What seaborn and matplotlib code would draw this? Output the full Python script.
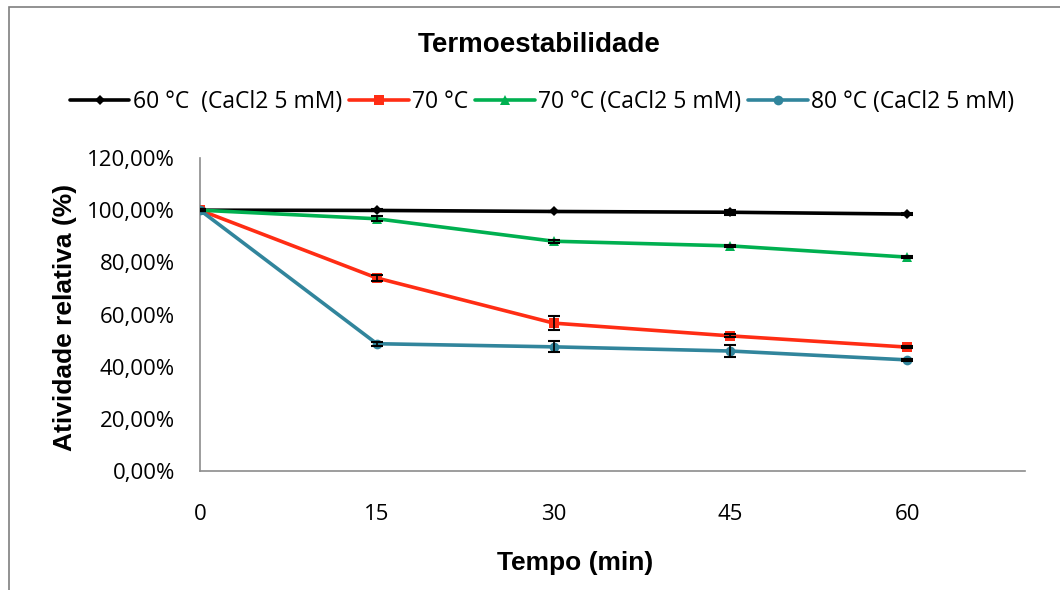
import matplotlib
matplotlib.use("Agg")
import matplotlib.pyplot as plt
import seaborn as sns
import pandas as pd
import numpy as np
from matplotlib.patches import Rectangle
from matplotlib.ticker import FuncFormatter

tempo = [0, 15, 30, 45, 60]
series_names = ["60 °C  (CaCl2 5 mM)", "70 °C", "70 °C (CaCl2 5 mM)", "80 °C (CaCl2 5 mM)"]
v60_ca = [100.0, 99.9, 99.5, 99.2, 98.5]
v70 = [100.0, 74.0, 56.7, 51.8, 47.5]
v70_ca = [100.0, 96.7, 88.1, 86.3, 82.0]
v80_ca = [100.0, 48.8, 47.6, 46.0, 42.6]
e60_ca = [0.3, 0.4, 0.3, 0.9, 0.3]
e70 = [0.4, 1.2, 2.7, 0.6, 0.4]
e70_ca = [0.3, 1.0, 0.5, 0.5, 0.4]
e80_ca = [0.3, 0.8, 2.1, 2.3, 0.4]

values = [v60_ca, v70, v70_ca, v80_ca]
errors = [e60_ca, e70, e70_ca, e80_ca]
colors = ["#000000", "#FF2D14", "#00B050", "#31859C"]
markers = ["D", "s", "^", "o"]
msizes = [5, 7, 7.5, 7]

df = pd.DataFrame({
    "Tempo": np.tile(tempo, 4),
    "Atividade": np.concatenate(values),
    "Serie": np.repeat(series_names, len(tempo)),
})

sns.set_theme(style="white")
plt.rcParams["font.family"] = ["Open Sans", "DejaVu Sans"]
plt.rcParams["text.color"] = "black"
plt.rcParams["axes.labelcolor"] = "black"

fig = plt.figure(figsize=(10.6, 5.9), dpi=100)
ax = fig.add_axes([200/1060, 1-471/590, 825/1060, 313/590])

for name, col, mk, ms, vals, errs in zip(series_names, colors, markers, msizes, values, errors):
    sub = df[df["Serie"] == name]
    sns.lineplot(data=sub, x="Tempo", y="Atividade", ax=ax, color=col, marker=mk,
                 markersize=ms, markeredgewidth=0, linewidth=2.6, label=name, zorder=3)
    ax.errorbar(tempo, vals, yerr=errs, fmt="none", ecolor="black", elinewidth=1.2,
                capsize=4, capthick=1.5, zorder=4)

ax.set_xlim(0, 70)
ax.set_ylim(0, 120)
ax.set_xticks(tempo)
ax.set_yticks([0, 20, 40, 60, 80, 100, 120])
ax.yaxis.set_major_formatter(FuncFormatter(lambda v, p: f"{v:.2f}%".replace(".", ",")))
ax.tick_params(axis="both", length=0, labelsize=16, colors="black")
ax.tick_params(axis="x", pad=24)
ax.tick_params(axis="y", pad=18)
for s in ["top", "right"]:
    ax.spines[s].set_visible(False)
for s in ["left", "bottom"]:
    ax.spines[s].set_color("#8C8C8C")
    ax.spines[s].set_linewidth(1.2)

ax.set_xlabel("Tempo (min)", fontsize=19, fontweight="bold", family="Liberation Sans")
ax.set_ylabel("Atividade relativa (%)", fontsize=19, fontweight="bold", family="Liberation Sans")
ax.xaxis.set_label_coords((575 - 200) / 825, -(563 - 471) / 313)
ax.yaxis.set_label_coords(-(200 - 65) / 825, (471 - 317) / 313)
ax.xaxis.label.set_va("center")
ax.yaxis.label.set_va("center")

fig.text(539/1060, 1-45/590, "Termoestabilidade", ha="center", va="center",
         fontsize=20, fontweight="bold", family="Liberation Sans")

handles, labels = ax.get_legend_handles_labels()
ax.get_legend().remove()
fig.legend(handles, labels, loc="center", bbox_to_anchor=(542/1060, 1-102/590), ncol=4,
           frameon=False, fontsize=16.5, handlelength=2.6, handletextpad=0.15,
           columnspacing=0.3, borderaxespad=0)

fig.patches.append(Rectangle((9/1060, -0.05), 1.1, 1.05 - 7/590, transform=fig.transFigure,
                             fill=False, edgecolor="#7F7F7F", linewidth=1.2, figure=fig))

fig.savefig("out.png", dpi=100)
